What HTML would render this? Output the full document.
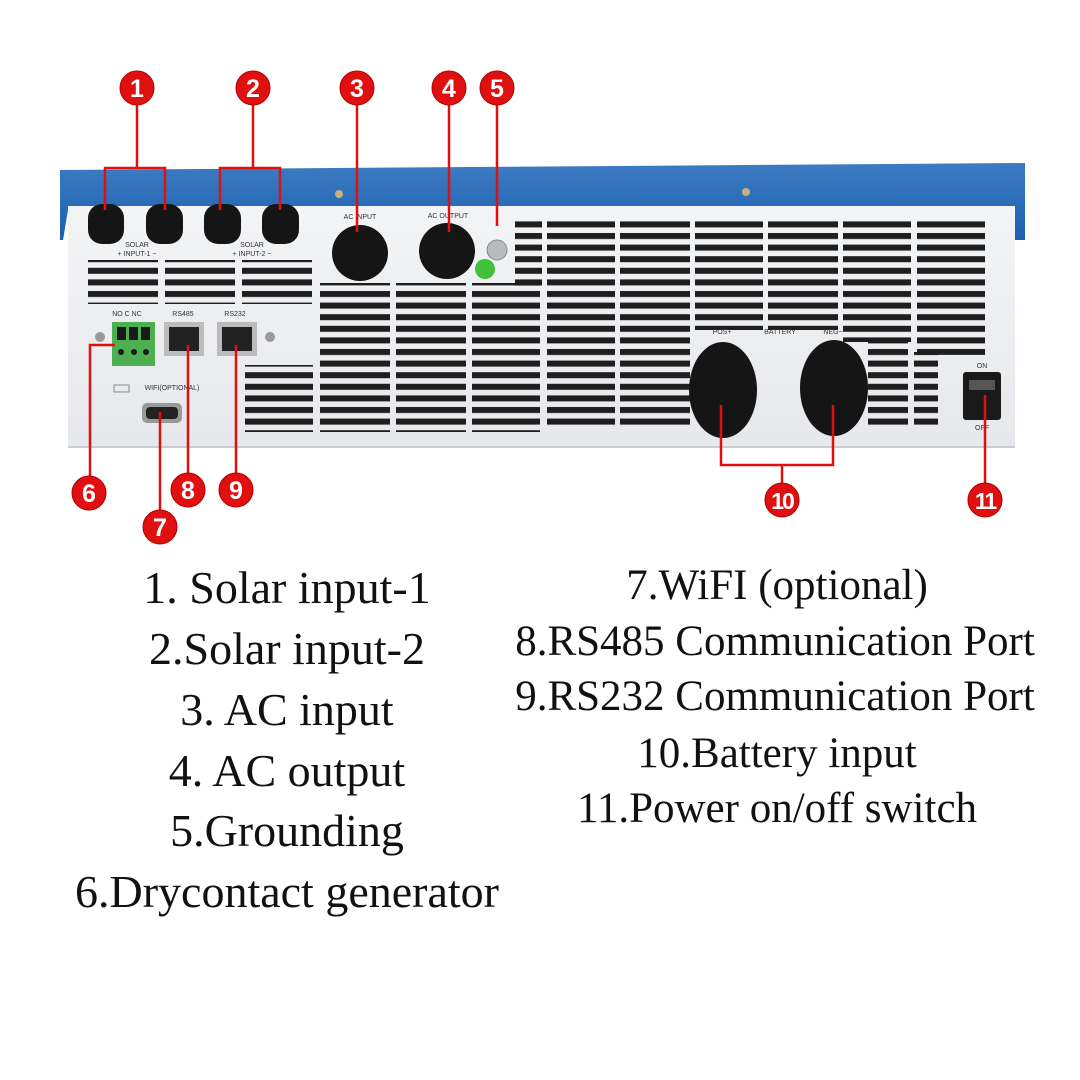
<!DOCTYPE html>
<html><head><meta charset="utf-8"><style>
html,body{margin:0;padding:0;background:#fff;}
svg{display:block;}
</style></head><body>
<svg width="1080" height="1080" viewBox="0 0 1080 1080" xmlns="http://www.w3.org/2000/svg">
<defs>
<pattern id="v" patternUnits="userSpaceOnUse" x="0" y="0" width="1080" height="11.6">
<rect x="0" y="1" width="1080" height="6" fill="#1e1e1e"/>
</pattern>
<linearGradient id="pg" x1="0" y1="0" x2="0" y2="1">
<stop offset="0" stop-color="#f3f4f6"/><stop offset="1" stop-color="#e6e8eb"/>
</linearGradient>
<linearGradient id="bg" x1="0" y1="0" x2="0" y2="1">
<stop offset="0" stop-color="#3d7cc4"/><stop offset="1" stop-color="#1c5fae"/>
</linearGradient>
</defs>
<rect width="1080" height="1080" fill="#fff"/>
<polygon points="60,170 1025,163 1025,240 1005,240 1005,207 68,210 63,240 60,240" fill="url(#bg)"/>
<rect x="68" y="206" width="947" height="241" fill="url(#pg)"/>
<line x1="68" y1="447" x2="1015" y2="447" stroke="#c9ccd0" stroke-width="2"/>
<circle cx="339" cy="194" r="4" fill="#c8b080"/>
<circle cx="746" cy="192" r="4" fill="#c8b080"/>
<g fill="url(#v)">
<rect x="88" y="260" width="70" height="44"/>
<rect x="165" y="260" width="70" height="44"/>
<rect x="242" y="260" width="70" height="44"/>
<rect x="245" y="365" width="68" height="67"/>
<rect x="320" y="283" width="70" height="149"/>
<rect x="396" y="283" width="70" height="149"/>
<rect x="472" y="283" width="68" height="149"/>
<rect x="515" y="220" width="27" height="70"/>
<rect x="547" y="220" width="68" height="210"/>
<rect x="620" y="220" width="70" height="210"/>
<rect x="695" y="220" width="68" height="110"/>
<rect x="768" y="220" width="70" height="110"/>
<rect x="843" y="220" width="68" height="122"/>
<rect x="917" y="220" width="68" height="135"/>
<rect x="868" y="340" width="40" height="90"/>
<rect x="914" y="352" width="24" height="78"/>
</g>
<g fill="#151515">
<rect x="88" y="204" width="36" height="40" rx="14"/>
<rect x="146" y="204" width="37" height="40" rx="14"/>
<rect x="204" y="204" width="37" height="40" rx="14"/>
<rect x="262" y="204" width="37" height="40" rx="14"/>
</g>
<g font-family="Liberation Sans, sans-serif" font-size="7" fill="#333" text-anchor="middle">
<text x="137" y="247">SOLAR</text><text x="137" y="256">+  INPUT-1  −</text>
<text x="252" y="247">SOLAR</text><text x="252" y="256">+  INPUT-2  −</text>
<text x="360" y="219">AC INPUT</text><text x="448" y="218">AC OUTPUT</text>
<text x="127" y="316">NO C NC</text><text x="183" y="316">RS485</text><text x="235" y="316">RS232</text>
<text x="172" y="390">WIFI(OPTIONAL)</text>
<text x="722" y="334">POS+</text><text x="780" y="334">BATTERY</text><text x="833" y="334">NEG−</text>
<text x="982" y="368">ON</text><text x="982" y="430">OFF</text>
</g>
<circle cx="360" cy="253" r="28" fill="#151515"/>
<circle cx="447" cy="251" r="28" fill="#151515"/>
<circle cx="497" cy="250" r="10" fill="#b8bcc0" stroke="#888"/>
<circle cx="485" cy="269" r="10" fill="#3fc23a"/>
<circle cx="100" cy="337" r="5" fill="#999"/>
<rect x="112" y="322" width="43" height="44" fill="#4caf50"/>
<g fill="#1a1a1a"><rect x="117" y="327" width="9" height="13"/><rect x="129" y="327" width="9" height="13"/><rect x="141" y="327" width="9" height="13"/>
<circle cx="121" cy="352" r="3"/><circle cx="134" cy="352" r="3"/><circle cx="146" cy="352" r="3"/></g>
<rect x="164" y="322" width="40" height="34" fill="#bbb"/><rect x="169" y="327" width="30" height="24" fill="#222"/>
<rect x="217" y="322" width="40" height="34" fill="#bbb"/><rect x="222" y="327" width="30" height="24" fill="#222"/>
<circle cx="270" cy="337" r="5" fill="#999"/>
<rect x="114" y="385" width="15" height="7" fill="none" stroke="#888"/>
<rect x="142" y="403" width="40" height="20" rx="5" fill="#999"/><rect x="146" y="407" width="32" height="12" rx="4" fill="#222"/>
<ellipse cx="723" cy="390" rx="34" ry="48" fill="#151515"/>
<ellipse cx="834" cy="388" rx="34" ry="48" fill="#151515"/>
<rect x="963" y="372" width="38" height="48" rx="3" fill="#1a1a1a"/>
<rect x="969" y="380" width="26" height="10" fill="#555"/>
<g stroke="#e01010" stroke-width="2.5" fill="none">
<polyline points="137,88 137,168"/><polyline points="105,210 105,168 165,168 165,210"/>
<polyline points="253,88 253,168"/><polyline points="220,210 220,168 280,168 280,210"/>
<polyline points="357,88 357,232"/>
<polyline points="449,88 449,232"/>
<polyline points="497,88 497,226"/>
<polyline points="90,493 90,345 115,345"/>
<polyline points="160,527 160,412"/>
<polyline points="188,490 188,345"/>
<polyline points="236,490 236,345"/>
<polyline points="782,500 782,465"/><polyline points="721,405 721,465 833,465 833,405"/>
<polyline points="985,500 985,395"/>
</g>
<g fill="#e01010" stroke="#b00000" stroke-width="1">
<circle cx="137" cy="88" r="17"/><circle cx="253" cy="88" r="17"/><circle cx="357" cy="88" r="17"/>
<circle cx="449" cy="88" r="17"/><circle cx="497" cy="88" r="17"/><circle cx="89" cy="493" r="17"/>
<circle cx="160" cy="527" r="17"/><circle cx="188" cy="490" r="17"/><circle cx="236" cy="490" r="17"/>
<circle cx="782" cy="500" r="17"/><circle cx="985" cy="500" r="17"/>
</g>
<g font-family="Liberation Sans, sans-serif" font-weight="bold" font-size="25" fill="#fff" text-anchor="middle">
<text x="137" y="97">1</text><text x="253" y="97">2</text><text x="357" y="97">3</text>
<text x="449" y="97">4</text><text x="497" y="97">5</text><text x="89" y="502">6</text>
<text x="160" y="536">7</text><text x="188" y="499">8</text><text x="236" y="499">9</text>
<text x="782" y="509" font-size="23" letter-spacing="-2">10</text><text x="985" y="509" font-size="23" letter-spacing="-2">11</text>
</g>
<g font-family="Liberation Serif, serif" font-size="46" fill="#111" text-anchor="middle">
<text x="287" y="603">1. Solar input-1</text>
<text x="287" y="664">2.Solar input-2</text>
<text x="287" y="725">3. AC input</text>
<text x="287" y="786">4. AC output</text>
<text x="287" y="846">5.Grounding</text>
<text x="287" y="907">6.Drycontact generator</text>
</g>
<g font-family="Liberation Serif, serif" font-size="43" fill="#111" text-anchor="middle">
<text x="777" y="599">7.WiFI (optional)</text>
<text x="775" y="655">8.RS485 Communication Port</text>
<text x="775" y="710">9.RS232 Communication Port</text>
<text x="777" y="767">10.Battery input</text>
<text x="777" y="822">11.Power on/off switch</text>
</g>
</svg>
</body></html>
